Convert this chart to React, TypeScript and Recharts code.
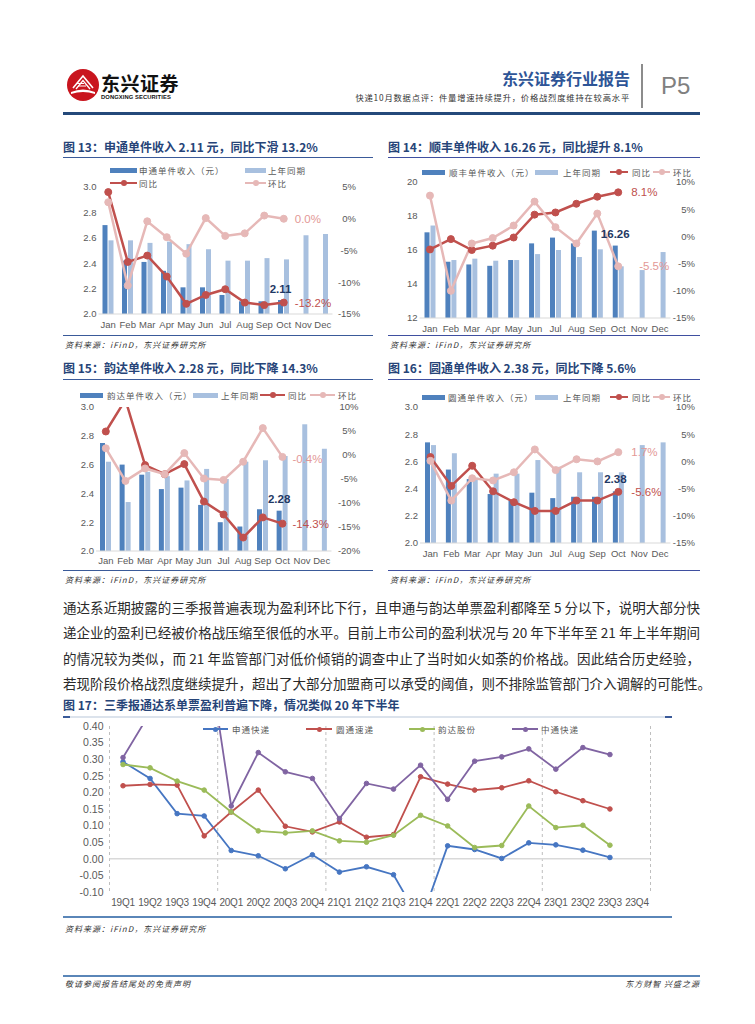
import React from 'react';
import { ComposedChart, Bar, Line, XAxis, YAxis, LabelList, CartesianGrid, ReferenceLine } from 'recharts';

const months = ['Jan', 'Feb', 'Mar', 'Apr', 'May', 'Jun', 'Jul', 'Aug', 'Sep', 'Oct', 'Nov', 'Dec'];

// 图13 申通
const stoPrice = [2.70, 2.42, 2.41, 2.34, 2.21, 2.21, 2.15, 2.10, 2.10, 2.11, null, null];
const stoPrev = [2.58, 2.58, 2.56, 2.57, 2.55, 2.51, 2.42, 2.42, 2.44, 2.43, 2.62, 2.63];
const stoYoy = [4.2, -6.8, -5.8, -9.1, -13.4, -12.0, -11.1, -13.2, -13.6, -13.2, null, null];
const stoMom = [2.6, -10.5, -0.4, -2.9, -5.5, 0.1, -2.7, -2.3, 0.5, 0.0, null, null];

// 图14 顺丰
const sfPrice = [17.04, 15.31, 15.15, 15.07, 15.41, 16.39, 16.73, 16.39, 17.14, 16.26, null, null];
const sfPrev = [17.44, 15.41, 15.49, 15.37, 15.41, 15.76, 16.0, 15.59, 16.04, 15.04, 14.82, 15.88];
const sfYoy = [-2.4, -0.5, -2.5, -1.7, -0.2, 4.0, 4.4, 6.0, 7.3, 8.1, null, null];
const sfMom = [7.5, -10.0, -1.3, -0.3, 2.0, 6.4, 1.7, -1.3, 4.2, -5.5, null, null];

// 图15 韵达
const ydPrice = [2.75, 2.60, 2.53, 2.43, 2.44, 2.32, 2.20, 2.17, 2.29, 2.28, null, null];
const ydPrev = [2.62, 2.34, 2.55, 2.52, 2.49, 2.57, 2.50, 2.62, 2.63, 2.66, 2.88, 2.71];
const ydYoy = [4.9, 11.5, -2.1, -4.0, -1.9, -9.7, -12.4, -17.2, -13.0, -14.3, null, null];
const ydMom = [1.4, -5.4, -2.8, -4.0, 0.4, -4.9, -5.2, -1.4, 5.6, -0.4, null, null];

// 图16 圆通
const ytoPrice = [2.74, 2.54, 2.47, 2.36, 2.31, 2.37, 2.33, 2.34, 2.34, 2.38, null, null];
const ytoPrev = [2.72, 2.66, 2.48, 2.51, 2.51, 2.61, 2.56, 2.52, 2.52, 2.52, 2.72, 2.74];
const ytoYoy = [0.8, -4.5, -0.8, -5.5, -7.5, -9.1, -9.1, -7.2, -7.2, -5.6, null, null];
const ytoMom = [0.1, -7.2, -3.1, -3.5, -2.0, 2.2, -1.6, 0.4, 0.0, 1.7, null, null];

// 图17 单票盈利
const quarters = ['19Q1', '19Q2', '19Q3', '19Q4', '20Q1', '20Q2', '20Q3', '20Q4', '21Q1', '21Q2',
  '21Q3', '21Q4', '22Q1', '22Q2', '22Q3', '22Q4', '23Q1', '23Q2', '23Q3', '23Q4'];
const stoProfit = [0.292, 0.242, 0.136, 0.129, 0.025, 0.009, -0.030, 0.012, -0.040, -0.024,
  -0.048, -0.19, 0.039, 0.028, 0.001, 0.048, 0.042, 0.026, 0.004, null];
const ytoProfit = [0.220, 0.224, 0.222, 0.069, 0.141, 0.207, 0.098, 0.081, 0.111, 0.065,
  0.073, 0.247, 0.225, 0.207, 0.214, 0.235, 0.202, 0.175, 0.150, null];
const ydProfit = [0.284, 0.274, 0.234, 0.207, 0.141, 0.084, 0.078, 0.084, 0.054, 0.050,
  0.071, 0.131, 0.099, 0.034, 0.040, 0.159, 0.094, 0.101, 0.041, null];
const ztoProfit = [0.305, 0.44, 0.50, 0.70, 0.159, 0.320, 0.262, 0.242, 0.121, 0.227,
  0.210, 0.282, 0.179, 0.294, 0.307, 0.331, 0.270, 0.335, 0.314, null];

const priceTicks = [2.0, 2.2, 2.4, 2.6, 2.8, 3.0];
const sfTicks = [12, 14, 16, 18, 20];
const pct15to5 = [-15, -10, -5, 0, 5];
const pct15to10 = [-15, -10, -5, 0, 5, 10];
const pct20to10 = [-20, -15, -10, -5, 0, 5, 10];
const profitTicks = [-0.1, -0.05, 0, 0.05, 0.1, 0.15, 0.2, 0.25, 0.3, 0.35, 0.4];

const FONT = '"Liberation Sans", Arial, sans-serif';
const CJK = '"Noto Sans CJK SC", "Liberation Sans", sans-serif';
const DARK = '#4F81BD';
const LIGHT = '#A8C0DF';
const RED = '#C0504D';
const PINK = '#E6B8B7';
const NAVY = '#1F3864';

const makeRows = (cur: any[], prev: any[], yoy: any[], mom: any[]) =>
  months.map((m, i) => ({ month: m, cur: cur[i], prev: prev[i], yoy: yoy[i], mom: mom[i] }));

const pointLabel = (text: string, color: string, dx: number, dy = 0) => (p: any) => {
  if (p.index !== 9) return null;
  const x = p.x ?? p.viewBox?.x;
  const y = p.y ?? p.viewBox?.y;
  return (
    <text x={x + dx} y={y + dy} dy="0.35em" fill={color} fontSize={11.5} fontFamily={FONT}>{text}</text>
  );
};

const barLabel = (text: string, dy: number) => (p: any) => {
  if (p.index !== 9) return null;
  const vb = p.viewBox || {};
  const x = (p.x ?? vb.x) + (p.width ?? vb.width ?? 0) / 2;
  const y = p.y ?? vb.y;
  return (
    <text x={x} y={y - dy} dy="0.35em" textAnchor="middle" fill={NAVY} fontSize={11.5}
      fontWeight="bold" fontFamily={FONT}>{text}</text>
  );
};

const Txt: React.FC<any> = ({ x, right, y, size, color = '#222', bold, italic, ls, family = CJK, children, w }) => (
  <div style={{
    position: 'absolute', left: x, right, top: y - size * 0.75, fontSize: size,
    lineHeight: `${size * 1.5}px`, whiteSpace: 'nowrap', color, fontWeight: bold ? 700 : 400,
    fontStyle: italic ? 'italic' : 'normal', letterSpacing: ls, fontFamily: family, width: w,
    textAlign: w ? 'justify' : undefined, textAlignLast: w ? 'justify' : undefined,
  }}>{children}</div>
);

const HLine = ({ x1, x2, y, color, h = 1 }: any) => (
  <div style={{ position: 'absolute', left: x1, width: x2 - x1, top: y - h / 2, height: h, background: color }} />
);

const LegendItem = ({ kind, color, x1, x2, y, tx, text, dotR = 3, lw = 2.5 }: any) => (
  <>
    {kind === 'bar' ? (
      <div style={{ position: 'absolute', left: x1, width: x2 - x1, top: y - 2.5, height: 5, background: color }} />
    ) : (
      <>
        <div style={{ position: 'absolute', left: x1, width: x2 - x1, top: y - lw / 2, height: lw, background: color }} />
        <div style={{
          position: 'absolute', left: (x1 + x2) / 2 - dotR, top: y - dotR, width: dotR * 2,
          height: dotR * 2, borderRadius: '50%', background: color,
        }} />
      </>
    )}
    <Txt x={tx} y={y} size={8.5} color="#595959" ls={1}>{text}</Txt>
  </>
);

const Panel = ({ cfg }: any) => {
  const { left, top, width, height, pl, pr, pt, pb, data } = cfg;
  const tick = { fontSize: 9.5, fill: '#595959', fontFamily: FONT };
  return (
    <div style={{ position: 'absolute', left, top }}>
      <ComposedChart width={width} height={height} data={data} barGap={1}
        margin={{ top: pt - top, right: 0, bottom: 0, left: 0 }}>
        <XAxis dataKey="month" height={top + height - pb} interval={0} tickLine={false} tickSize={0}
          tickMargin={cfg.xMargin} axisLine={{ stroke: '#D9D9D9' }} tick={tick} />
        <YAxis yAxisId="left" width={pl - left} domain={cfg.yl} ticks={cfg.ylTicks} axisLine={false}
          tickLine={false} tickSize={0} tickMargin={2} tick={tick} tickFormatter={cfg.ylFmt} interval={0} />
        <YAxis yAxisId="right" orientation="right" width={left + width - pr} domain={cfg.yr}
          ticks={cfg.yrTicks} axisLine={false} tickLine={false} tickSize={0} tickMargin={cfg.yrMargin}
          tick={{ ...tick, textAnchor: cfg.yrAnchor }} tickFormatter={(v: number) => `${v}%`}
          allowDataOverflow interval={0} />
        <Bar yAxisId="left" dataKey="cur" fill={DARK} barSize={5} isAnimationActive={false}>
          <LabelList dataKey="cur" content={barLabel(cfg.curLabel, cfg.curDy)} />
        </Bar>
        <Bar yAxisId="left" dataKey="prev" fill={LIGHT} barSize={5} isAnimationActive={false} />
        <Line yAxisId="right" dataKey="yoy" stroke={RED} strokeWidth={2.5} type="linear"
          dot={{ r: 3.5, fill: RED, stroke: RED, strokeWidth: 1 }} activeDot={false} isAnimationActive={false}>
          <LabelList dataKey="yoy" content={pointLabel(cfg.yoyLabel, RED, cfg.yoyDx, cfg.yoyDy || 0)} />
        </Line>
        <Line yAxisId="right" dataKey="mom" stroke={PINK} strokeWidth={2.5} type="linear"
          dot={{ r: 3.5, fill: PINK, stroke: PINK, strokeWidth: 1 }} activeDot={false} isAnimationActive={false}>
          <LabelList dataKey="mom" content={pointLabel(cfg.momLabel, '#E39896', cfg.momDx, cfg.momDy || 0)} />
        </Line>
      </ComposedChart>
    </div>
  );
};

const fmt1 = (v: number) => v.toFixed(1);
const fmt0 = (v: number) => `${v}`;

const c13 = {
  left: 55, top: 160, width: 320, height: 175, pl: 98.5, pr: 332.5, pt: 187, pb: 314,
  data: makeRows(stoPrice, stoPrev, stoYoy, stoMom), yl: [2, 3], ylTicks: priceTicks, ylFmt: fmt1,
  yr: [-15, 5], yrTicks: pct15to5, yrAnchor: 'middle', yrMargin: 16.5, xMargin: 7,
  curLabel: '2.11', curDy: 11, yoyLabel: '-13.2%', yoyDx: 11, momLabel: '0.0%', momDx: 11,
};
const c14 = {
  left: 380, top: 160, width: 320, height: 175, pl: 419.5, pr: 670.5, pt: 182, pb: 318,
  data: makeRows(sfPrice, sfPrev, sfYoy, sfMom), yl: [12, 20], ylTicks: sfTicks, ylFmt: fmt0,
  yr: [-15, 10], yrTicks: pct15to10, yrAnchor: 'end', yrMargin: 24.5, xMargin: 7,
  curLabel: '16.26', curDy: 11.5, yoyLabel: '8.1%', yoyDx: 13, momLabel: '-5.5%', momDx: 21,
};
const c15 = {
  left: 55, top: 385, width: 320, height: 185, pl: 96, pr: 331.5, pt: 407, pb: 551,
  data: makeRows(ydPrice, ydPrev, ydYoy, ydMom), yl: [2, 3], ylTicks: priceTicks, ylFmt: fmt1,
  yr: [-20, 10], yrTicks: pct20to10, yrAnchor: 'middle', yrMargin: 17.5, xMargin: 6,
  curLabel: '2.28', curDy: 11.5, yoyLabel: '-14.3%', yoyDx: 10, momLabel: '-0.4%', momDx: 10, momDy: 2,
};
const c16 = {
  left: 380, top: 385, width: 320, height: 185, pl: 420, pr: 670.5, pt: 407, pb: 543,
  data: makeRows(ytoPrice, ytoPrev, ytoYoy, ytoMom), yl: [2, 3], ylTicks: priceTicks, ylFmt: fmt1,
  yr: [-15, 10], yrTicks: pct15to10, yrAnchor: 'end', yrMargin: 24.5, xMargin: 7,
  curLabel: '2.38', curDy: 12, yoyLabel: '-5.6%', yoyDx: 13, momLabel: '1.7%', momDx: 13,
};

const profitRows = quarters.map((q, i) => ({
  q, sto: stoProfit[i], yto: ytoProfit[i], yd: ydProfit[i], zto: ztoProfit[i],
}));

const ProfitChart = () => {
  const left = 55, top = 718, width = 650, height = 200;
  const pl = 109.5, pr = 650.5, pt = 726, pb = 892;
  const tick = { fontSize: 9.5, fill: '#595959', fontFamily: FONT };
  const series = [
    { key: 'sto', color: '#4676C2' },
    { key: 'yto', color: '#C0504D' },
    { key: 'yd', color: '#9BBB59' },
    { key: 'zto', color: '#8064A2' },
  ];
  return (
    <div style={{ position: 'absolute', left, top }}>
      <ComposedChart width={width} height={height} data={profitRows}
        margin={{ top: pt - top, right: left + width - pr, bottom: 0, left: 0 }}>
        <CartesianGrid horizontal={false} stroke="#BFBFBF" strokeDasharray="3 3"
          verticalCoordinatesGenerator={({ offset }: any) =>
            [0, 4, 8, 12, 16, 20].map((k) => offset.left + (offset.width * k) / 20)} />
        <XAxis dataKey="q" scale="band" height={top + height - pb} interval={0} tickLine={false} tickSize={0}
          tickMargin={7} axisLine={false} tick={{ ...tick, fontSize: 10, letterSpacing: -0.2 }} />
        <YAxis width={pl - left} domain={[-0.1, 0.4]} ticks={profitTicks} allowDataOverflow axisLine={false}
          tickLine={false} tickSize={0} tickMargin={6} tick={{ ...tick, fontSize: 10.5 }}
          tickFormatter={(v: number) => v.toFixed(2)} interval={0} />
        <ReferenceLine y={0} stroke="#D9D9D9" strokeWidth={1.5} />
        {series.map((s) => (
          <Line key={s.key} dataKey={s.key} stroke={s.color} strokeWidth={1.8} type="linear"
            dot={{ r: 2.3, fill: s.color, stroke: s.color, strokeWidth: 1 }} activeDot={false}
            isAnimationActive={false} />
        ))}
      </ComposedChart>
    </div>
  );
};

const SOURCE = '资料来源：iFinD，东兴证券研究所';

export default function App() {
  return (
    <div style={{ position: 'absolute', left: 0, top: 0, width: 755, height: 1024, background: '#fff', overflow: 'hidden' }}>
      {/* header */}
      <svg style={{ position: 'absolute', left: 66, top: 68 }} width={34} height={34} viewBox="0 0 34 34">
        <circle cx={17} cy={17} r={16} fill="#C9151E" />
        <path d="M7 20 L17 8 L27 20" stroke="#fff" strokeWidth={1.6} fill="none" />
        <path d="M10 21 L17 12.5 L24 21" stroke="#fff" strokeWidth={1.3} fill="none" />
        <path d="M12 18 L20 18 M11 15.5 L18 15.5" stroke="#fff" strokeWidth={1} />
        <path d="M5 24 Q17 19 29 24 L29 26 Q17 22 5 26 Z" fill="#fff" />
      </svg>
      <Txt x={101} y={83} size={19} bold color="#111" ls={0.5}>东兴证券</Txt>
      <Txt x={101} y={97.5} size={5.8} bold color="#111" family={FONT} ls={0.1}>DONGXING SECURITIES</Txt>
      <Txt right={125} y={78} size={16} bold color="#2E5597">东兴证券行业报告</Txt>
      <Txt right={125} y={97} size={8.3} color="#333" ls={0.8}>快递10月数据点评：件量增速持续提升，价格战烈度维持在较高水平</Txt>
      <div style={{ position: 'absolute', left: 641, top: 64, width: 1.5, height: 44, background: '#8C8C8C' }} />
      <Txt x={661} y={86} size={24} color="#808080" family={FONT}>P5</Txt>
      <HLine x1={63} x2={700} y={113} h={3} color="#24497A" />

      {/* section titles */}
      <Txt x={63} y={147} size={12} bold color="#264478">图 13：申通单件收入 2.11 元，同比下滑 13.2%</Txt>
      <HLine x1={63} x2={373} y={157} color="#3A5A99" />
      <Txt x={388} y={147} size={12} bold color="#264478">图 14：顺丰单件收入 16.26 元，同比提升 8.1%</Txt>
      <HLine x1={388} x2={700} y={157} color="#3F4FA0" />

      <Panel cfg={c13} />
      <Panel cfg={c14} />
      <LegendItem kind="bar" color={DARK} x1={110} x2={137} y={170} tx={139} text="申通单件收入（元）" />
      <LegendItem kind="bar" color={LIGHT} x1={245} x2={266} y={170} tx={268} text="上年同期" />
      <LegendItem kind="line" color={RED} x1={110} x2={137} y={183} tx={139} text="同比" />
      <LegendItem kind="line" color={PINK} x1={245} x2={266} y={183} tx={268} text="环比" />

      <LegendItem kind="bar" color={DARK} x1={422} x2={445} y={172} tx={449} text="顺丰单件收入（元）" />
      <LegendItem kind="bar" color={LIGHT} x1={535} x2={558} y={172} tx={563} text="上年同期" />
      <LegendItem kind="line" color={RED} x1={610} x2={628} y={172} tx={632} text="同比" />
      <LegendItem kind="line" color={PINK} x1={653} x2={670} y={172} tx={673} text="环比" />

      <HLine x1={63} x2={373} y={335} color="#3A5A99" />
      <HLine x1={388} x2={700} y={335} color="#3F4FA0" />
      <Txt x={65} y={345} size={8} italic color="#333" ls={1}>{SOURCE}</Txt>
      <Txt x={390} y={345} size={8} italic color="#333" ls={1}>{SOURCE}</Txt>

      <Txt x={63} y={368} size={12} bold color="#264478">图 15：韵达单件收入 2.28 元，同比下降 14.3%</Txt>
      <HLine x1={63} x2={373} y={379} color="#3A5A99" />
      <Txt x={388} y={368} size={12} bold color="#264478">图 16：圆通单件收入 2.38 元，同比下降 5.6%</Txt>
      <HLine x1={388} x2={700} y={379} color="#3F4FA0" />

      <Panel cfg={c15} />
      <Panel cfg={c16} />
      <LegendItem kind="bar" color={DARK} x1={80} x2={103} y={395} tx={107} text="韵达单件收入（元）" />
      <LegendItem kind="bar" color={LIGHT} x1={193} x2={218} y={395} tx={221} text="上年同期" />
      <LegendItem kind="line" color={RED} x1={260} x2={285} y={395} tx={288} text="同比" />
      <LegendItem kind="line" color={PINK} x1={310} x2={335} y={395} tx={338} text="环比" />

      <LegendItem kind="bar" color={DARK} x1={422} x2={445} y={397} tx={448} text="圆通单件收入（元）" />
      <LegendItem kind="bar" color={LIGHT} x1={535} x2={558} y={397} tx={563} text="上年同期" />
      <LegendItem kind="line" color={RED} x1={610} x2={628} y={397} tx={632} text="同比" />
      <LegendItem kind="line" color={PINK} x1={653} x2={670} y={397} tx={673} text="环比" />

      <HLine x1={63} x2={373} y={570} color="#3A5A99" />
      <HLine x1={388} x2={700} y={570} color="#3F4FA0" />
      <Txt x={65} y={580} size={8} italic color="#333" ls={1}>{SOURCE}</Txt>
      <Txt x={390} y={580} size={8} italic color="#333" ls={1}>{SOURCE}</Txt>

      {/* paragraph */}
      <Txt x={63} y={607} size={13.5} color="#2a2a2a" w={637}>通达系近期披露的三季报普遍表现为盈利环比下行，且申通与韵达单票盈利都降至 5 分以下，说明大部分快</Txt>
      <Txt x={63} y={632} size={13.5} color="#2a2a2a" w={637}>递企业的盈利已经被价格战压缩至很低的水平。目前上市公司的盈利状况与 20 年下半年至 21 年上半年期间</Txt>
      <Txt x={63} y={658} size={13.5} color="#2a2a2a" w={637}>的情况较为类似，而 21 年监管部门对低价倾销的调查中止了当时如火如荼的价格战。因此结合历史经验，</Txt>
      <Txt x={63} y={683} size={13.5} color="#2a2a2a" w={637}>若现阶段价格战烈度继续提升，超出了大部分加盟商可以承受的阈值，则不排除监管部门介入调解的可能性。</Txt>

      {/* chart 17 */}
      <Txt x={63} y={705} size={12} bold color="#264478">图 17：三季报通达系单票盈利普遍下降，情况类似 20 年下半年</Txt>
      <HLine x1={63} x2={672} y={717} color="#DCE3EC" h={1.5} />
      <HLine x1={63} x2={70} y={717} color="#3A5A99" h={1.5} />
      <HLine x1={665} x2={672} y={717} color="#3A5A99" h={1.5} />
      <ProfitChart />
      <LegendItem kind="line" color="#4676C2" x1={203} x2={228} y={729} tx={232} text="申通快递" dotR={2.5} lw={2} />
      <LegendItem kind="line" color="#C0504D" x1={306} x2={332} y={729} tx={336} text="圆通速递" dotR={2.5} lw={2} />
      <LegendItem kind="line" color="#9BBB59" x1={409} x2={435} y={729} tx={438} text="韵达股份" dotR={2.5} lw={2} />
      <LegendItem kind="line" color="#8064A2" x1={512} x2={538} y={729} tx={541} text="中通快递" dotR={2.5} lw={2} />
      <HLine x1={63} x2={672} y={917} color="#5A86B8" h={2} />
      <Txt x={65} y={929} size={8} italic color="#333" ls={1}>{SOURCE}</Txt>

      {/* footer */}
      <HLine x1={63} x2={700} y={976} color="#5A86B8" h={2.5} />
      <Txt x={65} y={984} size={8} italic color="#333" ls={1}>敬请参阅报告结尾处的免责声明</Txt>
      <Txt right={55} y={984} size={8} italic color="#333" ls={1}>东方财智 兴盛之源</Txt>
    </div>
  );
}
